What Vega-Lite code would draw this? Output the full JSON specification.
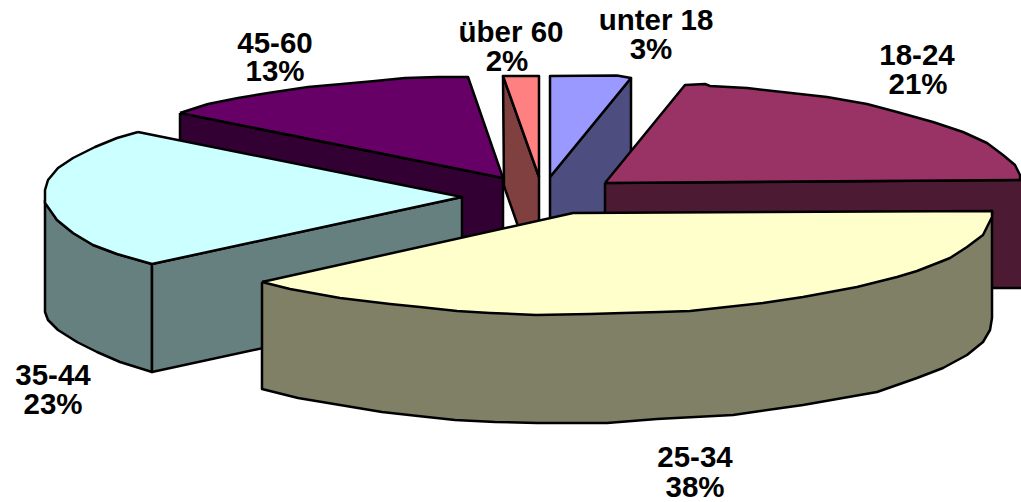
{"$schema":"https://vega.github.io/schema/vega-lite/v6.json","width":1021,"height":502,"padding":0,"autosize":{"type":"none"},"background":"white","config":{"view":{"stroke":null}},
"layer":[
{"data":{"values":[
{"f":"a1","i":0,"x":550,"y":177},{"f":"a1","i":1,"x":631,"y":78},{"f":"a1","i":2,"x":631,"y":255},{"f":"a1","i":3,"x":550,"y":255},{"f":"a1","i":4,"x":550,"y":177},
{"f":"a2","i":0,"x":550,"y":177},{"f":"a2","i":1,"x":550,"y":76},{"f":"a2","i":2,"x":617,"y":75.5},{"f":"a2","i":3,"x":631,"y":78},{"f":"a2","i":4,"x":550,"y":177},
{"f":"b1","i":0,"x":503,"y":76},{"f":"b1","i":1,"x":539,"y":177},{"f":"b1","i":2,"x":539,"y":235},{"f":"b1","i":3,"x":520,"y":235},{"f":"b1","i":4,"x":518,"y":226},{"f":"b1","i":5,"x":504,"y":186},{"f":"b1","i":6,"x":503,"y":76},
{"f":"b2","i":0,"x":539,"y":177},{"f":"b2","i":1,"x":503,"y":76},{"f":"b2","i":2,"x":539,"y":76},{"f":"b2","i":3,"x":539,"y":177},
{"f":"c1","i":0,"x":180,"y":113},{"f":"c1","i":1,"x":503,"y":178},{"f":"c1","i":2,"x":503,"y":238},{"f":"c1","i":3,"x":463,"y":245},{"f":"c1","i":4,"x":180,"y":170},{"f":"c1","i":5,"x":180,"y":113},
{"f":"c2","i":0,"x":180,"y":113},{"f":"c2","i":1,"x":208,"y":104},{"f":"c2","i":2,"x":238,"y":98},{"f":"c2","i":3,"x":268,"y":93},{"f":"c2","i":4,"x":308,"y":87},{"f":"c2","i":5,"x":342,"y":84},{"f":"c2","i":6,"x":375,"y":81},{"f":"c2","i":7,"x":405,"y":78},{"f":"c2","i":8,"x":438,"y":77},{"f":"c2","i":9,"x":468,"y":77},{"f":"c2","i":10,"x":503,"y":178},{"f":"c2","i":11,"x":180,"y":113},
{"f":"d1","i":0,"x":605,"y":183},{"f":"d1","i":1,"x":1030,"y":180},{"f":"d1","i":2,"x":1030,"y":288},{"f":"d1","i":3,"x":605,"y":288},{"f":"d1","i":4,"x":605,"y":183},
{"f":"d2","i":0,"x":605,"y":183},{"f":"d2","i":1,"x":685,"y":85},{"f":"d2","i":2,"x":705,"y":84},{"f":"d2","i":3,"x":710,"y":86},{"f":"d2","i":4,"x":747,"y":88},{"f":"d2","i":5,"x":800,"y":94},{"f":"d2","i":6,"x":827,"y":97},{"f":"d2","i":7,"x":867,"y":104},{"f":"d2","i":8,"x":897,"y":112},{"f":"d2","i":9,"x":933,"y":122},{"f":"d2","i":10,"x":963,"y":132},{"f":"d2","i":11,"x":987,"y":143},{"f":"d2","i":12,"x":1003,"y":155},{"f":"d2","i":13,"x":1015,"y":165},{"f":"d2","i":14,"x":1020,"y":175},{"f":"d2","i":15,"x":1020,"y":180},{"f":"d2","i":16,"x":605,"y":183},
{"f":"e1","i":0,"x":45,"y":200},{"f":"e1","i":1,"x":57,"y":220},{"f":"e1","i":2,"x":73,"y":233},{"f":"e1","i":3,"x":93,"y":245},{"f":"e1","i":4,"x":117,"y":254},{"f":"e1","i":5,"x":152,"y":264},{"f":"e1","i":6,"x":152,"y":372},{"f":"e1","i":7,"x":120,"y":362},{"f":"e1","i":8,"x":97,"y":352},{"f":"e1","i":9,"x":77,"y":342},{"f":"e1","i":10,"x":58,"y":330},{"f":"e1","i":11,"x":48,"y":320},{"f":"e1","i":12,"x":45,"y":312},{"f":"e1","i":13,"x":45,"y":200},
{"f":"e3","i":0,"x":152,"y":264},{"f":"e3","i":1,"x":462,"y":197},{"f":"e3","i":2,"x":462,"y":305},{"f":"e3","i":3,"x":152,"y":372},{"f":"e3","i":4,"x":152,"y":264},
{"f":"e2","i":0,"x":138,"y":132},{"f":"e2","i":1,"x":117,"y":138},{"f":"e2","i":2,"x":95,"y":147},{"f":"e2","i":3,"x":73,"y":158},{"f":"e2","i":4,"x":58,"y":168},{"f":"e2","i":5,"x":48,"y":180},{"f":"e2","i":6,"x":45,"y":190},{"f":"e2","i":7,"x":45,"y":203},{"f":"e2","i":8,"x":57,"y":220},{"f":"e2","i":9,"x":73,"y":233},{"f":"e2","i":10,"x":93,"y":245},{"f":"e2","i":11,"x":117,"y":254},{"f":"e2","i":12,"x":152,"y":264},{"f":"e2","i":13,"x":462,"y":197},{"f":"e2","i":14,"x":138,"y":132},
{"f":"g1","i":0,"x":262,"y":282},{"f":"g1","i":1,"x":992,"y":211},{"f":"g1","i":2,"x":992,"y":318},{"f":"g1","i":3,"x":990,"y":330},{"f":"g1","i":4,"x":983,"y":342},{"f":"g1","i":5,"x":967,"y":355},{"f":"g1","i":6,"x":943,"y":368},{"f":"g1","i":7,"x":917,"y":378},{"f":"g1","i":8,"x":877,"y":392},{"f":"g1","i":9,"x":803,"y":405},{"f":"g1","i":10,"x":733,"y":415},{"f":"g1","i":11,"x":657,"y":419},{"f":"g1","i":12,"x":607,"y":423},{"f":"g1","i":13,"x":537,"y":423},{"f":"g1","i":14,"x":495,"y":422},{"f":"g1","i":15,"x":455,"y":420},{"f":"g1","i":16,"x":418,"y":416},{"f":"g1","i":17,"x":382,"y":412},{"f":"g1","i":18,"x":328,"y":403},{"f":"g1","i":19,"x":298,"y":398},{"f":"g1","i":20,"x":262,"y":389},{"f":"g1","i":21,"x":262,"y":282},
{"f":"g2","i":0,"x":262,"y":282},{"f":"g2","i":1,"x":573,"y":213},{"f":"g2","i":2,"x":992,"y":211},{"f":"g2","i":3,"x":992,"y":217},{"f":"g2","i":4,"x":988,"y":225},{"f":"g2","i":5,"x":983,"y":235},{"f":"g2","i":6,"x":967,"y":247},{"f":"g2","i":7,"x":950,"y":258},{"f":"g2","i":8,"x":940,"y":262},{"f":"g2","i":9,"x":917,"y":271},{"f":"g2","i":10,"x":897,"y":277},{"f":"g2","i":11,"x":857,"y":287},{"f":"g2","i":12,"x":803,"y":297},{"f":"g2","i":13,"x":763,"y":303},{"f":"g2","i":14,"x":690,"y":311},{"f":"g2","i":15,"x":660,"y":312},{"f":"g2","i":16,"x":623,"y":313},{"f":"g2","i":17,"x":590,"y":314},{"f":"g2","i":18,"x":536,"y":315},{"f":"g2","i":19,"x":490,"y":313},{"f":"g2","i":20,"x":457,"y":311},{"f":"g2","i":21,"x":420,"y":307},{"f":"g2","i":22,"x":390,"y":304},{"f":"g2","i":23,"x":340,"y":298},{"f":"g2","i":24,"x":290,"y":289},{"f":"g2","i":25,"x":262,"y":282}
]},
"mark":{"type":"line","stroke":"black","strokeWidth":2.5,"strokeJoin":"round","clip":true},
"encoding":{
"x":{"field":"x","type":"quantitative","scale":{"domain":[0,1021],"nice":false,"zero":false},"axis":null},
"y":{"field":"y","type":"quantitative","scale":{"domain":[502,0],"nice":false,"zero":false},"axis":null},
"order":{"field":"i","type":"quantitative"},
"detail":{"field":"f","type":"nominal"},
"fill":{"field":"f","type":"nominal","legend":null,"scale":{"domain":["a1","a2","b1","b2","c1","c2","d1","d2","e1","e3","e2","g1","g2"],"range":["#4D4D80","#9999FF","#804040","#FF8080","#330033","#660066","#4D1A33","#993366","#668080","#668080","#CCFFFF","#808066","#FFFFCC"]}}
}},
{"data":{"values":[
{"t":"unter 18","x":656,"y":21},{"t":"3%","x":651,"y":50},
{"t":"18-24","x":917,"y":56},{"t":"21%","x":918,"y":85},
{"t":"45-60","x":275,"y":44},{"t":"13%","x":275,"y":72},
{"t":"über 60","x":511,"y":33},{"t":"2%","x":507,"y":62},
{"t":"35-44","x":53,"y":376},{"t":"23%","x":53,"y":405},
{"t":"25-34","x":695,"y":458},{"t":"38%","x":695,"y":488}
]},
"mark":{"type":"text","font":"Liberation Sans","fontWeight":"bold","fontSize":29.5,"color":"black","align":"center","baseline":"middle"},
"encoding":{
"x":{"field":"x","type":"quantitative","scale":{"domain":[0,1021],"nice":false,"zero":false},"axis":null},
"y":{"field":"y","type":"quantitative","scale":{"domain":[502,0],"nice":false,"zero":false},"axis":null},
"text":{"field":"t","type":"nominal"}
}}
]}
